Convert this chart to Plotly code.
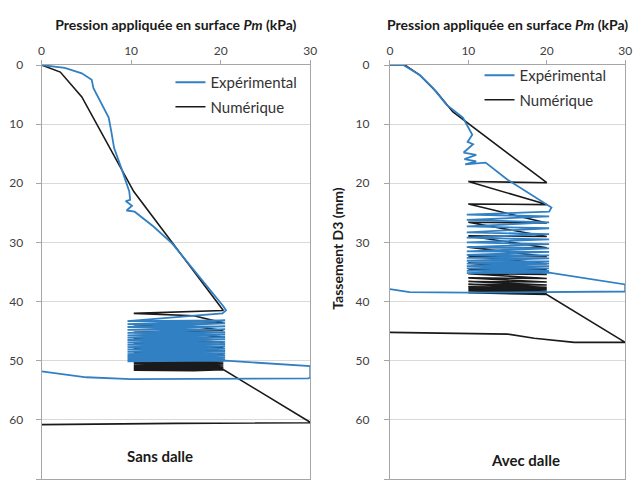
import plotly.graph_objects as go

# ---------------- data ----------------
# Left panel: "Sans dalle"
expL_x = [0, 2.6, 4.5, 5.6, 5.8, 6.4, 7.5, 7.8, 8.1, 8.9, 9.8, 9.9, 9.4, 10.1, 9.5, 10.4, 12.5, 14.6, 17.5, 20.3, 20.6, 20.2]
expL_y = [0, 0.5, 1.4, 2.5, 3.9, 5.6, 8.9, 11.3, 14.0, 17.4, 21.4, 22.8, 23.0, 23.8, 24.6, 24.8, 27.3, 30.2, 35.5, 40.8, 41.5, 42.0]
expL_cyc_right = [42.0, 43.2, 43.7, 44.2, 44.7, 45.2, 45.6, 46.0, 46.4, 46.8, 47.2, 47.6, 48.0, 48.4, 48.8, 49.1, 49.4, 49.7, 50.0]
expL_cyc_left = [43.3, 43.8, 44.3, 44.8, 45.3, 45.7, 46.1, 46.5, 46.9, 47.3, 47.7, 48.1, 48.5, 48.9, 49.2, 49.5, 49.8, 50.1]
expL_cyc_xr, expL_cyc_xl = 20.5, 9.6
expL_end_x = [30.0, 30.0, 29.8, 20.0, 10.0, 5.0, 0.0]
expL_end_y = [50.9, 52.8, 53.0, 53.1, 53.1, 52.8, 51.8]

numL_x = [0, 2.1, 4.5, 10.3, 20.3]
numL_y = [0, 1.2, 5.4, 21.4, 41.5]
numL_cyc_right = [41.5, 43.6, 44.9, 46.0, 46.9, 47.7, 48.4, 49.0, 49.5, 49.9, 50.2, 50.5, 50.7, 50.9, 51.1, 51.3, 51.5]
numL_cyc_left = [42.0, 43.9, 45.2, 46.3, 47.2, 48.0, 48.7, 49.3, 49.8, 50.2, 50.5, 50.8, 51.0, 51.2, 51.4, 51.6]
numL_cyc_mid = [42.4, 44.2, 45.5, 46.6, 47.5, 48.3, 49.0, 49.6, 50.0, 50.4, 50.7, 51.0, 51.2, 51.4, 51.6, 51.7]
numL_cyc_xr, numL_cyc_xm, numL_cyc_xl = 20.3, 17.0, 10.3
numL_end_x = [30.0, 30.0, 15.0, 0.0]
numL_end_y = [60.4, 60.5, 60.6, 60.8]

# Right panel: "Avec dalle"
expR_x = [0, 1.7, 3.8, 5.5, 7.2, 9.3, 10.5, 9.9, 10.6, 9.4, 11.0, 9.5, 11.0, 9.6, 12.2, 13.4, 15.0, 20.6, 20.3]
expR_y = [0, 0, 1.7, 3.9, 6.7, 8.9, 11.8, 13.0, 13.4, 14.8, 15.2, 15.9, 16.3, 16.8, 16.5, 17.7, 19.4, 24.1, 24.8]
expR_cyc_right = [24.8, 25.6, 26.6, 27.6, 28.6, 29.5, 30.3, 31.0, 31.6, 32.2, 32.7, 33.2, 33.6, 34.0, 34.4, 34.8, 35.1]
expR_cyc_left = [25.3, 26.2, 27.3, 28.3, 29.2, 30.0, 30.8, 31.5, 32.1, 32.6, 33.1, 33.6, 34.0, 34.4, 34.8, 35.2]
expR_cyc_xr, expR_cyc_xl = 20.3, 9.8
expR_end_x = [30.0, 30.0, 10.0, 2.5, 0.0]
expR_end_y = [37.1, 38.3, 38.5, 38.4, 37.9]

numR_x = [0, 1.9, 3.8, 5.9, 8.0, 20.0]
numR_y = [0, 0, 1.7, 4.5, 7.9, 19.9]
numR_cyc_right = [19.9, 23.6, 26.7, 29.0, 30.9, 32.4, 33.6, 34.6, 35.4, 36.1, 36.7, 37.2, 37.6, 37.9, 38.2, 38.4, 38.6, 38.8]
numR_cyc_left = [19.7, 23.5, 26.6, 28.9, 30.8, 32.3, 33.5, 34.5, 35.3, 36.0, 36.6, 37.1, 37.5, 37.8, 38.1, 38.3, 38.5]
numR_cyc_xr, numR_cyc_xl = 20.0, 10.0
numR_end_x = [30.0, 23.5, 18.4, 15.0, 0.0]
numR_end_y = [46.9, 46.9, 46.2, 45.5, 45.2]

x_ticks = [0, 10, 20, 30]
y_ticks = [0, 10, 20, 30, 40, 50, 60, 70]

BLUE = "#3180C4"
BLACK = "#1a1a1a"


def cycles(x0, y0, right, left, xr, xl, endx, endy, mid=None, xm=None):
    xs, ys = list(x0), list(y0)
    for i in range(len(left)):
        xs.append(xl); ys.append(left[i])
        if mid is not None:
            xs.append(xm); ys.append(mid[i])
        xs.append(xr); ys.append(right[i + 1])
    xs += endx
    ys += endy
    return xs, ys


fig = go.Figure()

lx, ly = cycles(numL_x, numL_y, numL_cyc_right, numL_cyc_left, numL_cyc_xr, numL_cyc_xl,
                numL_end_x, numL_end_y, numL_cyc_mid, numL_cyc_xm)
fig.add_trace(go.Scatter(x=lx, y=ly, mode="lines", line=dict(color=BLACK, width=1.6),
                         name="Numérique", legend="legend", legendrank=2, legendgroup="n",
                         xaxis="x", yaxis="y"))
ex, ey = cycles(expL_x, expL_y, expL_cyc_right, expL_cyc_left, expL_cyc_xr, expL_cyc_xl,
                expL_end_x, expL_end_y)
fig.add_trace(go.Scatter(x=ex, y=ey, mode="lines", line=dict(color=BLUE, width=1.8),
                         name="Expérimental", legend="legend", legendrank=1, legendgroup="e",
                         xaxis="x", yaxis="y"))

rx, ry = cycles(numR_x, numR_y, numR_cyc_right, numR_cyc_left, numR_cyc_xr, numR_cyc_xl,
                numR_end_x, numR_end_y)
fig.add_trace(go.Scatter(x=rx, y=ry, mode="lines", line=dict(color=BLACK, width=1.6),
                         name="Numérique", legend="legend2", legendrank=2, legendgroup="n2",
                         xaxis="x2", yaxis="y2"))
e2x, e2y = cycles(expR_x, expR_y, expR_cyc_right, expR_cyc_left, expR_cyc_xr, expR_cyc_xl,
                  expR_end_x, expR_end_y)
fig.add_trace(go.Scatter(x=e2x, y=e2y, mode="lines", line=dict(color=BLUE, width=1.8),
                         name="Expérimental", legend="legend2", legendrank=1, legendgroup="e2",
                         xaxis="x2", yaxis="y2"))

# page has an 8px body margin: figure origin is at page (8, 8)
W, H = 636, 473
T, B = 57, 2
PH = H - T - B
FONT = "Lato"


def px_x(p):
    return (p - 8) / W


def px_y(p):
    return 1 - (p - 8 - T) / PH


xcommon = dict(range=[0, 30], side="top", tickvals=x_ticks, ticks="outside", ticklen=4,
               tickcolor="#A6A6A6", showline=True, linecolor="#A6A6A6", mirror=True,
               showgrid=False, zeroline=False, tickfont=dict(size=12, color="#404040", family=FONT),
               title=dict(text="<b>Pression appliquée en surface <i>Pm</i> (kPa)</b>",
                          font=dict(size=14, color="#1a1a1a", family=FONT), standoff=9))
ycommon = dict(range=[70, 0], tickvals=y_ticks, ticks="outside", ticklen=5, tickcolor="#A6A6A6",
               showline=True, linecolor="#A6A6A6", mirror=True, showgrid=True,
               gridcolor="#D9D9D9", zeroline=False,
               tickfont=dict(size=12, color="#404040", family=FONT), domain=[0, 1])

legcommon = dict(bgcolor="rgba(0,0,0,0)", font=dict(size=15, color="#333333", family=FONT),
                 traceorder="grouped", tracegroupgap=2, itemwidth=30, yanchor="top", xanchor="left")

fig.update_layout(
    width=W, height=H, margin=dict(l=0, r=0, t=T, b=B),
    paper_bgcolor="white", plot_bgcolor="white",
    xaxis=dict(domain=[px_x(39), px_x(312)], anchor="y", **xcommon),
    yaxis=dict(anchor="x", ticklabelstandoff=10, **ycommon),
    xaxis2=dict(domain=[px_x(393), px_x(632)], anchor="y2", **xcommon),
    yaxis2=dict(anchor="x2", ticklabelstandoff=12, **ycommon),
    legend=dict(x=px_x(170), y=px_y(66), **legcommon),
    legend2=dict(x=px_x(484), y=px_y(59), **legcommon),
    annotations=[
        dict(text="<b>Tassement D3 (mm)</b>", x=px_x(340), y=px_y(248), xref="paper", yref="paper",
             textangle=-90, showarrow=False, font=dict(size=14, color="#1a1a1a", family=FONT)),
        dict(text="<b>Sans dalle</b>", x=13.2, y=66.1, xref="x", yref="y", showarrow=False,
             font=dict(size=15, color="#1a1a1a", family=FONT)),
        dict(text="<b>Avec dalle</b>", x=17.3, y=66.8, xref="x2", yref="y2", showarrow=False,
             font=dict(size=15, color="#1a1a1a", family=FONT)),
    ],
)

fig.write_html("out.html")
